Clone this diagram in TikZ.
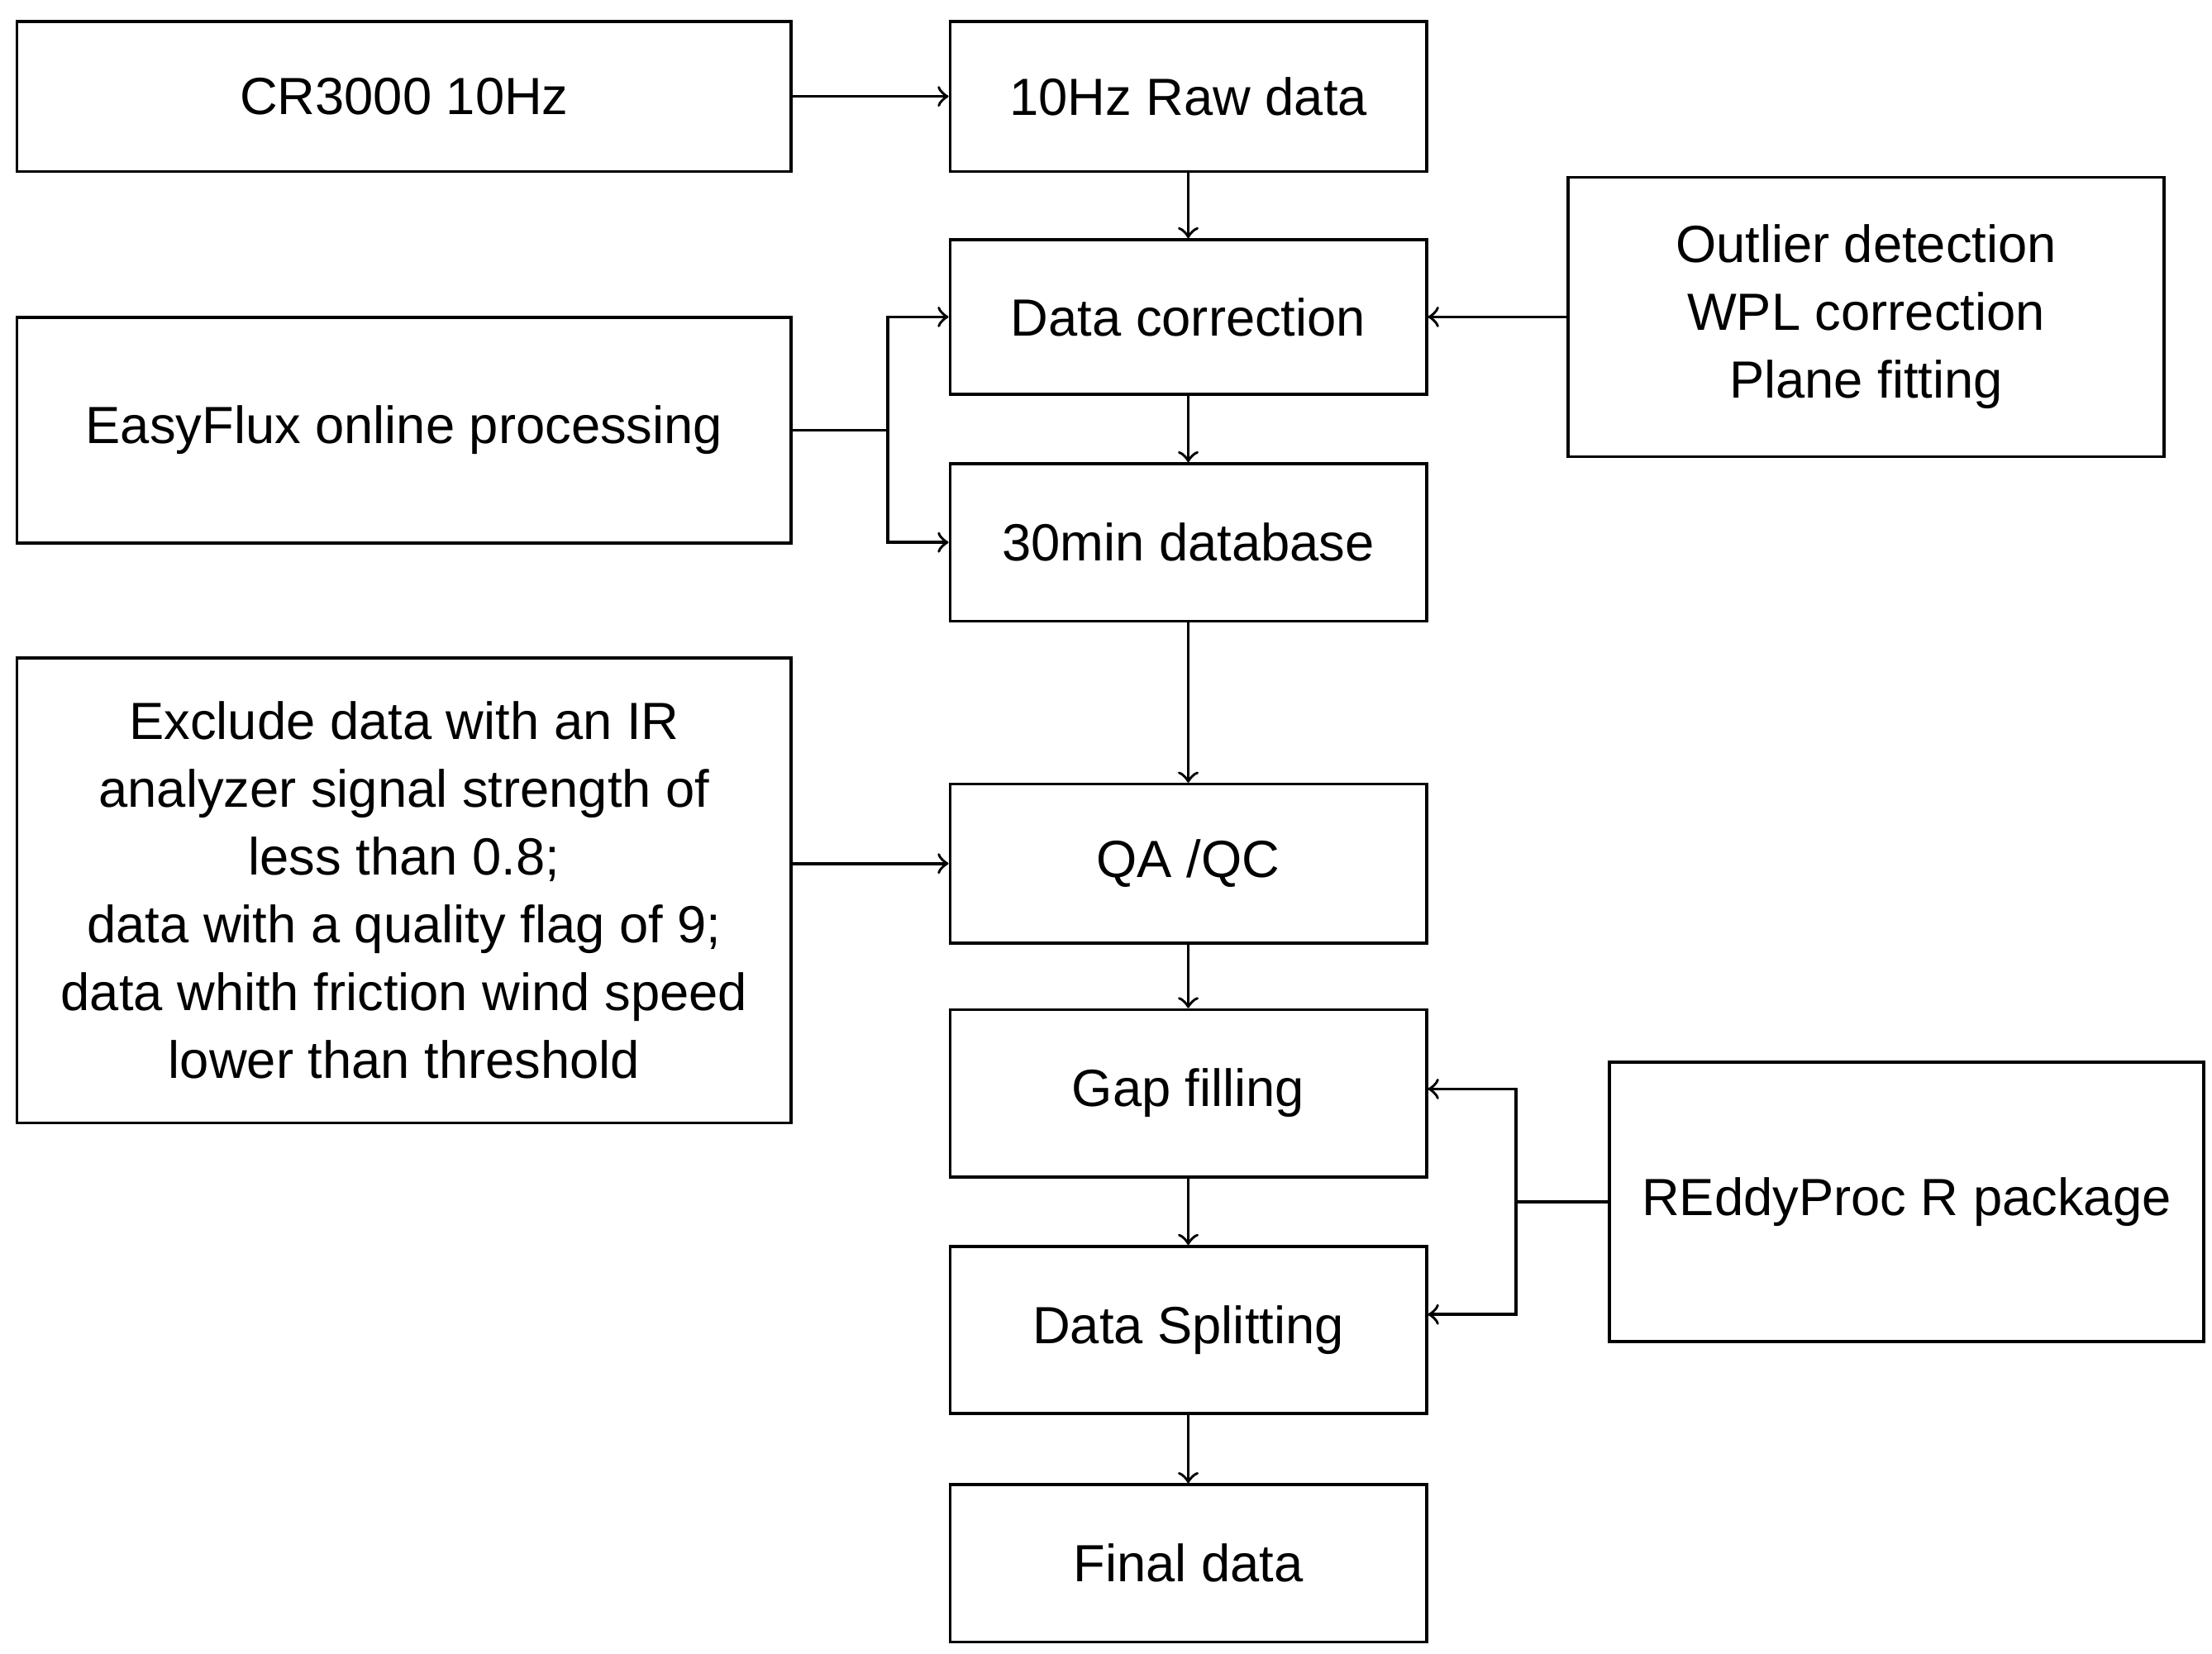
\documentclass[tikz,border=0pt]{standalone}
\usepackage{fontspec}
\setmainfont{Liberation Sans}
\usetikzlibrary{positioning}

\begin{document}
\begin{tikzpicture}[semithick,
    box/.style={draw, align=center, inner sep=0pt, font=\fontsize{10.5}{13.6}\selectfont},
    stage/.style={box, minimum width=3.36cm, minimum height=1.1cm}]
%      \draw[style=help lines] (0,0) grid (15.6,-11.66);
      \useasboundingbox (0,0) rectangle (15.6,-11.66);
      \node[box, minimum width=5.46cm, minimum height=1.06cm] (cr) at (2.85,-0.68) {CR3000 10Hz};
      \node[stage, minimum height=1.06cm] (raw) at (8.38,-0.68) {10Hz Raw data};
      \node[stage, minimum height=1.09cm] (corr) at (8.38,-2.235) {Data correction};
      \node[box, minimum width=4.2cm, minimum height=1.97cm] (outl) at (13.16,-2.235)
        {Outlier detection\\WPL correction\\Plane fitting};
      \node[box, minimum width=5.46cm, minimum height=1.59cm] (easy) at (2.85,-3.035) {EasyFlux online processing};
      \node[stage, minimum height=1.11cm] (db) at (8.38,-3.825) {30min database};
      \node[box, minimum width=5.46cm, minimum height=3.28cm] (excl) at (2.85,-6.28)
        {Exclude data with an IR\\analyzer signal strength of\\less than 0.8;\\data with a quality flag of 9;\\data whith friction wind speed\\lower than threshold};
      \node[stage, minimum height=1.12cm] (qa) at (8.38,-6.09) {QA /QC};
      \node[stage, minimum height=1.18cm] (gap) at (8.38,-7.71) {Gap filling};
      \node[stage, minimum height=1.18cm] (split) at (8.38,-9.38) {Data Splitting};
      \node[box, minimum width=4.19cm, minimum height=1.97cm] (reddy) at (13.445,-8.475) {REddyProc R package};
      \node[stage, minimum height=1.11cm] (final) at (8.38,-11.025) {Final data};
      % main chain
      \draw[->] (cr) -- (raw);
      \draw[->] (raw) -- (corr);
      \draw[->] (corr) -- (db);
      \draw[->] (db) -- (qa);
      \draw[->] (qa) -- (gap);
      \draw[->] (gap) -- (split);
      \draw[->] (split) -- (final);
      \draw[->] (outl) -- (corr);
      \draw[->] (excl.east|-qa) -- (qa);
      % branches
      \draw (easy.east) -- ++(0.67,0) coordinate (ej);
      \draw[->] (ej) |- (corr.west);
      \draw[->] (ej) |- (db.west);
      \draw (reddy.west) -- ++(-0.65,0) coordinate (rj);
      \draw[->] (rj) |- ([yshift=0.3mm]gap.east);
      \draw[->] (rj) |- ([yshift=1.1mm]split.east);
    \end{tikzpicture}
\end{document}
